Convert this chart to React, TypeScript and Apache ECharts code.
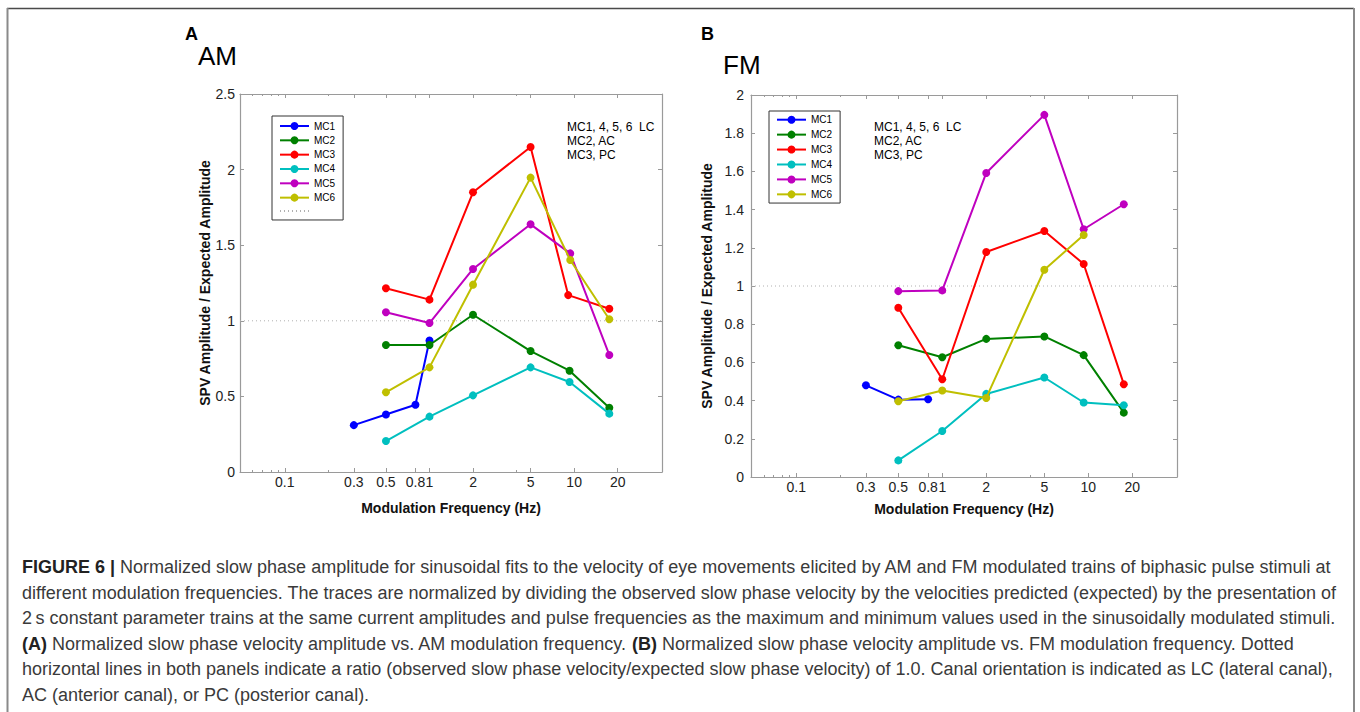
import React, { useEffect, useRef } from "react";
import * as echarts from "echarts";

// ---------- data ----------
const SERIES_NAMES = ["MC1", "MC2", "MC3", "MC4", "MC5", "MC6"];
const SERIES_COLORS = ["#0000ff", "#008000", "#ff0000", "#00bfbf", "#bf00bf", "#bfbf00"];

const X_MIN = 0.049;
const X_MAX = 40.5;
const MAJOR_TICKS = [0.1, 0.3, 0.5, 0.8, 1, 2, 5, 10, 20];
const MINOR_TICKS = [0.06, 0.07, 0.08, 0.09, 0.2, 4];

// Panel A (AM)
const AM_MC1_FREQ = [0.3, 0.5, 0.8, 1];
const AM_MC1 = [0.31, 0.38, 0.445, 0.87];
const AM_MC2_FREQ = [0.5, 1, 2, 5, 9.3, 17.5];
const AM_MC2 = [0.84, 0.84, 1.04, 0.8, 0.67, 0.425];
const AM_MC3_FREQ = [0.5, 1, 2, 5, 9.1, 17.5];
const AM_MC3 = [1.215, 1.14, 1.85, 2.15, 1.17, 1.08];
const AM_MC4_FREQ = [0.5, 1, 2, 5, 9.3, 17.5];
const AM_MC4 = [0.205, 0.366, 0.507, 0.692, 0.595, 0.386];
const AM_MC5_FREQ = [0.5, 1, 2, 5, 9.4, 17.5];
const AM_MC5 = [1.056, 0.985, 1.343, 1.638, 1.446, 0.774];
const AM_MC6_FREQ = [0.5, 1, 2, 5, 9.4, 17.5];
const AM_MC6 = [0.527, 0.692, 1.239, 1.947, 1.402, 1.01];

// Panel B (FM)
const FM_MC1_FREQ = [0.3, 0.5, 0.8];
const FM_MC1 = [0.48, 0.405, 0.407];
const FM_MC2_FREQ = [0.5, 1, 2, 5, 9.3, 17.5];
const FM_MC2 = [0.69, 0.627, 0.723, 0.736, 0.638, 0.337];
const FM_MC3_FREQ = [0.5, 1, 2, 5, 9.3, 17.5];
const FM_MC3 = [0.886, 0.512, 1.178, 1.288, 1.115, 0.486];
const FM_MC4_FREQ = [0.5, 1, 2, 5, 9.3, 17.5];
const FM_MC4 = [0.087, 0.241, 0.435, 0.521, 0.39, 0.376];
const FM_MC5_FREQ = [0.5, 1, 2, 5, 9.3, 17.5];
const FM_MC5 = [0.973, 0.977, 1.592, 1.896, 1.297, 1.428];
const FM_MC6_FREQ = [0.5, 1, 2, 5, 9.3];
const FM_MC6 = [0.397, 0.453, 0.414, 1.085, 1.267];

const REF_RATIO = 1.0;

const AM_Y_MAX = 2.5;
const AM_Y_STEP = 0.5;
const FM_Y_MAX = 2;
const FM_Y_STEP = 0.2;

const ANNOTATION_LINES = ["MC1, 4, 5, 6  LC", "MC2, AC", "MC3, PC"];
const Y_NAME = "SPV Amplitude / Expected Amplitude";
const X_NAME = "Modulation Frequency (Hz)";

const CAPTION_LINES = [
  "{b|FIGURE 6 |} Normalized slow phase amplitude for sinusoidal fits to the velocity of eye movements elicited by AM and FM modulated trains of biphasic pulse stimuli at",
  "different modulation frequencies. The traces are normalized by dividing the observed slow phase velocity by the velocities predicted (expected) by the presentation of",
  "2\u2009s constant parameter trains at the same current amplitudes and pulse frequencies as the maximum and minimum values used in the sinusoidally modulated stimuli.",
  "{b|(A)} Normalized slow phase velocity amplitude vs. AM modulation frequency. {b|(B)} Normalized slow phase velocity amplitude vs. FM modulation frequency. Dotted",
  "horizontal lines in both panels indicate a ratio (observed slow phase velocity/expected slow phase velocity) of 1.0. Canal orientation is indicated as LC (lateral canal),",
  "AC (anterior canal), or PC (posterior canal).",
];

// ---------- helpers ----------
const FONT = "'Liberation Sans', Arial, sans-serif";
const AXIS_GRAY = "#9a9a9a";
const lg = (f: number) => Math.log10(f);
const fmtFreq = (v: number) => String(Math.round(Math.pow(10, v) * 100) / 100);

const AM_SETS = [
  [AM_MC1_FREQ, AM_MC1],
  [AM_MC2_FREQ, AM_MC2],
  [AM_MC3_FREQ, AM_MC3],
  [AM_MC4_FREQ, AM_MC4],
  [AM_MC5_FREQ, AM_MC5],
  [AM_MC6_FREQ, AM_MC6],
];
const FM_SETS = [
  [FM_MC1_FREQ, FM_MC1],
  [FM_MC2_FREQ, FM_MC2],
  [FM_MC3_FREQ, FM_MC3],
  [FM_MC4_FREQ, FM_MC4],
  [FM_MC5_FREQ, FM_MC5],
  [FM_MC6_FREQ, FM_MC6],
];

function xAxesFor(gridIndex: number, nameGap: number) {
  const base = {
    gridIndex,
    type: "value",
    min: lg(X_MIN),
    max: lg(X_MAX),
    splitLine: { show: false },
  };
  return [
    {
      ...base,
      position: "bottom",
      axisLine: { show: true, onZero: false, lineStyle: { color: AXIS_GRAY, width: 1.2 } },
      axisTick: {
        show: true,
        inside: true,
        length: 4,
        customValues: MAJOR_TICKS.map(lg),
        lineStyle: { color: AXIS_GRAY },
      },
      axisLabel: {
        show: true,
        customValues: MAJOR_TICKS.map(lg),
        formatter: fmtFreq,
        fontFamily: FONT,
        fontSize: 14,
        color: "#222",
        margin: 3,
        hideOverlap: false,
      },
      name: X_NAME,
      nameLocation: "middle",
      nameGap,
      nameTextStyle: { fontFamily: FONT, fontSize: 14, fontWeight: "bold", color: "#111" },
    },
    {
      ...base,
      position: "bottom",
      axisLine: { show: false, onZero: false },
      axisTick: {
        show: true,
        inside: true,
        length: 2,
        customValues: MINOR_TICKS.map(lg),
        lineStyle: { color: AXIS_GRAY },
      },
      axisLabel: { show: false },
    },
    {
      ...base,
      position: "top",
      axisLine: { show: true, onZero: false, lineStyle: { color: AXIS_GRAY, width: 1.2 } },
      axisTick: {
        show: true,
        inside: true,
        length: 4,
        customValues: MAJOR_TICKS.map(lg),
        lineStyle: { color: AXIS_GRAY },
      },
      axisLabel: { show: false },
    },
    {
      ...base,
      position: "top",
      axisLine: { show: false, onZero: false },
      axisTick: {
        show: true,
        inside: true,
        length: 2,
        customValues: MINOR_TICKS.map(lg),
        lineStyle: { color: AXIS_GRAY },
      },
      axisLabel: { show: false },
    },
  ];
}

function yAxesFor(gridIndex: number, max: number, step: number, nameGap: number, labelMargin: number) {
  const base = {
    gridIndex,
    type: "value",
    min: 0,
    max,
    interval: step,
    splitLine: { show: false },
    axisLine: { show: true, onZero: false, lineStyle: { color: AXIS_GRAY, width: 1.2 } },
    axisTick: { show: true, inside: true, length: 4, lineStyle: { color: AXIS_GRAY } },
  };
  return [
    {
      ...base,
      position: "left",
      axisLabel: { fontFamily: FONT, fontSize: 14, color: "#222", margin: labelMargin },
      name: Y_NAME,
      nameLocation: "middle",
      nameGap,
      nameTextStyle: { fontFamily: FONT, fontSize: 14, fontWeight: "bold", color: "#111" },
    },
    {
      ...base,
      position: "right",
      axisLabel: { show: false },
    },
  ];
}

function seriesFor(sets: number[][][], xAxisIndex: number, yAxisIndex: number, refName: string) {
  const out: any[] = sets.map(([freqs, vals], i) => ({
    type: "line",
    name: SERIES_NAMES[i],
    xAxisIndex,
    yAxisIndex,
    data: freqs.map((f, k) => [lg(f), vals[k]]),
    symbol: "circle",
    symbolSize: 8,
    showSymbol: true,
    color: SERIES_COLORS[i],
    lineStyle: { width: 2, color: SERIES_COLORS[i] },
    itemStyle: { color: SERIES_COLORS[i] },
    z: 3 + i,
    silent: true,
  }));
  out.unshift({
    type: "line",
    name: refName,
    xAxisIndex,
    yAxisIndex,
    data: [
      [lg(X_MIN), REF_RATIO],
      [lg(X_MAX), REF_RATIO],
    ],
    symbol: "none",
    color: "#b0b0b0",
    lineStyle: { width: 1, type: [1, 3], color: "#b0b0b0" },
    z: 2,
    silent: true,
  });
  return out;
}

function legendFor(left: number, top: number, names: any[], itemGap: number, padding: number[]) {
  return {
    left,
    top,
    orient: "vertical",
    data: names,
    selectedMode: false,
    itemWidth: 29,
    itemHeight: 10,
    itemGap,
    padding,
    borderColor: "#333",
    borderWidth: 1,
    backgroundColor: "#fff",
    formatter: (n: string) => (n.startsWith("ref") ? "" : n),
    textStyle: { fontFamily: FONT, fontSize: 10, color: "#000", lineHeight: 10 },
  };
}

export default function App() {
  const ref = useRef<HTMLDivElement>(null);
  useEffect(() => {
    if (!ref.current) return;
    const chart = echarts.init(ref.current, null, { renderer: "svg" });

    const annotations = (x: number) =>
      ANNOTATION_LINES.map((t, i) => ({
        type: "text",
        x,
        y: 127 + i * 14,
        style: { text: t, fontFamily: FONT, fontSize: 12, fill: "#000", verticalAlign: "middle", align: "left" },
      }));

    const caption = CAPTION_LINES.map((t, i) => ({
      type: "text",
      x: 22,
      y: 567 + i * 25.5,
      style: {
        text: t,
        fontFamily: FONT,
        fontSize: 18,
        fill: "#3a3a3a",
        verticalAlign: "middle",
        align: "left",
        rich: {
          b: { fontFamily: FONT, fontSize: 18, fontWeight: "bold", fill: "#222" },
        },
      },
    }));

    const option: any = {
      animation: false,
      backgroundColor: "#fff",
      grid: [
        { left: 240, top: 94, width: 422, height: 378, containLabel: false },
        { left: 751, top: 95, width: 426, height: 382, containLabel: false },
      ],
      xAxis: [...xAxesFor(0, 29), ...xAxesFor(1, 25)],
      yAxis: [...yAxesFor(0, AM_Y_MAX, AM_Y_STEP, 28, 5), ...yAxesFor(1, FM_Y_MAX, FM_Y_STEP, 37, 7)],
      legend: [
        legendFor(272, 116, [...SERIES_NAMES, { name: "refA", itemStyle: { opacity: 0 } }], 4.33, [5, 8, 5, 7]),
        legendFor(769, 111, SERIES_NAMES, 4.93, [3.7, 8, 3.7, 7]),
      ],
      series: [...seriesFor(AM_SETS as any, 0, 0, "refA"), ...seriesFor(FM_SETS as any, 4, 2, "refB")],
      graphic: [
        // outer frame
        { type: "line", shape: { x1: 7, y1: 8.5, x2: 1354, y2: 8.5 }, style: { stroke: "#4a4a4a", lineWidth: 1.5 } },
        { type: "line", shape: { x1: 7.5, y1: 8, x2: 7.5, y2: 720 }, style: { stroke: "#8a8a8a", lineWidth: 2 } },
        { type: "line", shape: { x1: 1354, y1: 8, x2: 1354, y2: 720 }, style: { stroke: "#8a8a8a", lineWidth: 2 } },
        // panel labels
        { type: "text", x: 185, y: 33.5, style: { text: "A", fontFamily: FONT, fontSize: 18, fontWeight: "bold", fill: "#000", verticalAlign: "middle" } },
        { type: "text", x: 198, y: 56, style: { text: "AM", fontFamily: FONT, fontSize: 26, fill: "#000", verticalAlign: "middle" } },
        { type: "text", x: 701, y: 33.5, style: { text: "B", fontFamily: FONT, fontSize: 18, fontWeight: "bold", fill: "#000", verticalAlign: "middle" } },
        { type: "text", x: 723, y: 64.5, style: { text: "FM", fontFamily: FONT, fontSize: 26, fill: "#000", verticalAlign: "middle" } },
        ...annotations(567),
        ...annotations(874),
        ...caption,
      ],
    };
    chart.setOption(option);
    return () => chart.dispose();
  }, []);
  return <div ref={ref} style={{ position: "absolute", left: 0, top: 0, width: 1360, height: 712 }} />;
}
